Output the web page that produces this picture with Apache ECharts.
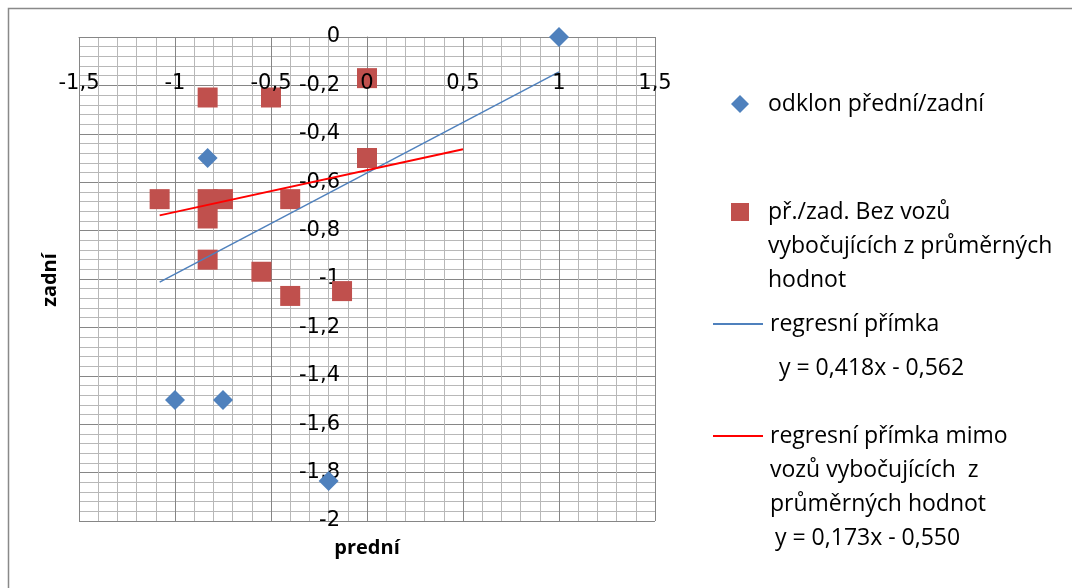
<!DOCTYPE html>
<html><head><meta charset="utf-8">
<script src="https://cdn.jsdelivr.net/npm/echarts@6/dist/echarts.min.js"></script>
<style>html,body{margin:0;padding:0;background:#fff}#c{width:1072px;height:588px}</style>
</head><body><div id="c"></div>
<script>
// ---- data ----
const seriesNames = [
  'odklon přední/zadní',
  'př./zad. Bez vozů vybočujících z průměrných hodnot',
  'regresní přímka',
  'regresní přímka mimo vozů vybočujících  z průměrných hodnot'
];
const legendLabels = [
  'odklon přední/zadní',
  'př./zad. Bez vozů\nvybočujících z průměrných\nhodnot',
  'regresní přímka',
  'regresní přímka mimo\nvozů vybočujících  z\nprůměrných hodnot'
];
const odklonPoints = [[1, 0], [-0.83, -0.5], [-1, -1.5], [-0.75, -1.5], [-0.2, -1.835]];
const bezVybocujicich = [
  [0, -0.17], [-0.83, -0.25], [-0.5, -0.25], [0, -0.5],
  [-1.08, -0.67], [-0.83, -0.67], [-0.75, -0.67], [-0.4, -0.67],
  [-0.83, -0.75], [-0.83, -0.92], [-0.55, -0.97], [-0.4, -1.07], [-0.13, -1.05]
];
const regresniPrimka = [[-1.08, -1.013], [1, -0.144]];
const regresniMimo = [[-1.08, -0.737], [0.5, -0.464]];
const equations = ['y = 0,418x - 0,562', 'y = 0,173x - 0,550'];
const xAxisTitle = 'prední';
const yAxisTitle = 'zadní';
const xRange = [-1.5, 1.5];
const yRange = [-2, 0];

// ---- chart ----
const fmt = v => String(Math.round(v * 10) / 10).replace('.', ',');
const chart = echarts.init(document.getElementById('c'), null, {renderer: 'canvas'});
const legendText = (name) => {
  const t = legendLabels[seriesNames.indexOf(name)];
  return t.indexOf('\n') >= 0 ? '\u00a0\n\u00a0\n' + t : t;
};
function legendCfg(idx, left, top, w, h, icon, gap) {
  const item = icon ? {name: seriesNames[idx], icon: icon} : seriesNames[idx];
  return {
    data: [item], left: left, top: top, orient: 'vertical', padding: 0,
    itemWidth: w, itemHeight: h, selectedMode: false,
    formatter: legendText,
    textStyle: {fontFamily: 'Open Sans', fontSize: 23, color: '#000', lineHeight: 34,
      padding: [0, 0, 0, gap]}
  };
}
const labelStyle = {fontFamily: 'DejaVu Sans', fontSize: 21, color: '#000', formatter: fmt,
  showMinLabel: true, showMaxLabel: true};
const option = {
  backgroundColor: '#fff',
  animation: false,
  grid: {left: 79, right: 417, top: 37, bottom: 67, containLabel: false},
  xAxis: [{
    type: 'value', min: xRange[0], max: xRange[1], interval: 0.5, position: 'bottom', offset: -484,
    axisLine: {show: true, onZero: false, lineStyle: {color: '#868686', width: 1}},
    axisTick: {show: true, length: 6, lineStyle: {color: '#868686'}},
    axisLabel: {show: false},
    splitLine: {show: true, lineStyle: {color: '#868686', width: 1}},
    minorTick: {show: false, splitNumber: 5},
    minorSplitLine: {show: true, lineStyle: {color: '#b8b8b8', width: 1}}
  }, {
    // label-only copy of the x axis, drawn above the markers
    type: 'value', min: xRange[0], max: xRange[1], interval: 0.5, position: 'bottom', offset: -484, z: 10,
    axisLine: {show: false, onZero: false}, axisTick: {show: false}, splitLine: {show: false},
    axisLabel: Object.assign({margin: 36}, labelStyle)
  }],
  yAxis: {
    type: 'value', min: yRange[0], max: yRange[1], interval: 0.2, position: 'left', offset: -288,
    axisLine: {show: true, onZero: false, lineStyle: {color: '#868686', width: 1}},
    axisTick: {show: true, length: 7, lineStyle: {color: '#868686'}},
    axisLabel: Object.assign({margin: 27}, labelStyle),
    splitLine: {show: true, lineStyle: {color: '#868686', width: 1}},
    minorTick: {show: false, splitNumber: 5},
    minorSplitLine: {show: true, lineStyle: {color: '#b8b8b8', width: 1}}
  },
  legend: [
    legendCfg(0, 731, 87, 18, 18, null, 14),
    legendCfg(1, 731, 127, 18, 18, null, 14),
    legendCfg(2, 713, 307, 50, 2, 'rect', 2),
    legendCfg(3, 713, 351, 50, 2, 'rect', 2)
  ],
  series: [
    {name: seriesNames[0], type: 'scatter', data: odklonPoints, symbol: 'diamond', symbolSize: 20,
      itemStyle: {color: '#4F81BD', opacity: 1}, z: 3},
    {name: seriesNames[1], type: 'scatter', data: bezVybocujicich, symbol: 'rect', symbolSize: 20,
      itemStyle: {color: '#C0504D', opacity: 1}, z: 4},
    {name: seriesNames[2], type: 'line', data: regresniPrimka, symbol: 'none', showSymbol: false,
      lineStyle: {color: '#4F81BD', width: 1.5}, itemStyle: {color: '#4F81BD'}, z: 5},
    {name: seriesNames[3], type: 'line', data: regresniMimo, symbol: 'none', showSymbol: false,
      lineStyle: {color: '#FF0000', width: 2}, itemStyle: {color: '#FF0000'}, z: 5}
  ],
  graphic: [
    {type: 'polyline', shape: {points: [[8.5, 600], [8.5, 8.5], [1072, 8.5]]},
      style: {stroke: '#898989', lineWidth: 1.5, fill: null}, silent: true},
    {type: 'text', x: 779, y: 368, style: {text: equations[0], font: '23px "Open Sans"', fill: '#000',
      textVerticalAlign: 'middle'}},
    {type: 'text', x: 775, y: 538, style: {text: equations[1], font: '23px "Open Sans"', fill: '#000',
      textVerticalAlign: 'middle'}},
    {type: 'text', x: 367, y: 548, style: {text: xAxisTitle, font: 'bold 20px "Open Sans"', fill: '#000',
      textAlign: 'center', textVerticalAlign: 'middle'}},
    {type: 'text', x: 50, y: 280, rotation: Math.PI / 2, style: {text: yAxisTitle, font: 'bold 20px "Open Sans"',
      fill: '#000', textAlign: 'center', textVerticalAlign: 'middle'}}
  ]
};
chart.setOption(option);
</script></body></html>
